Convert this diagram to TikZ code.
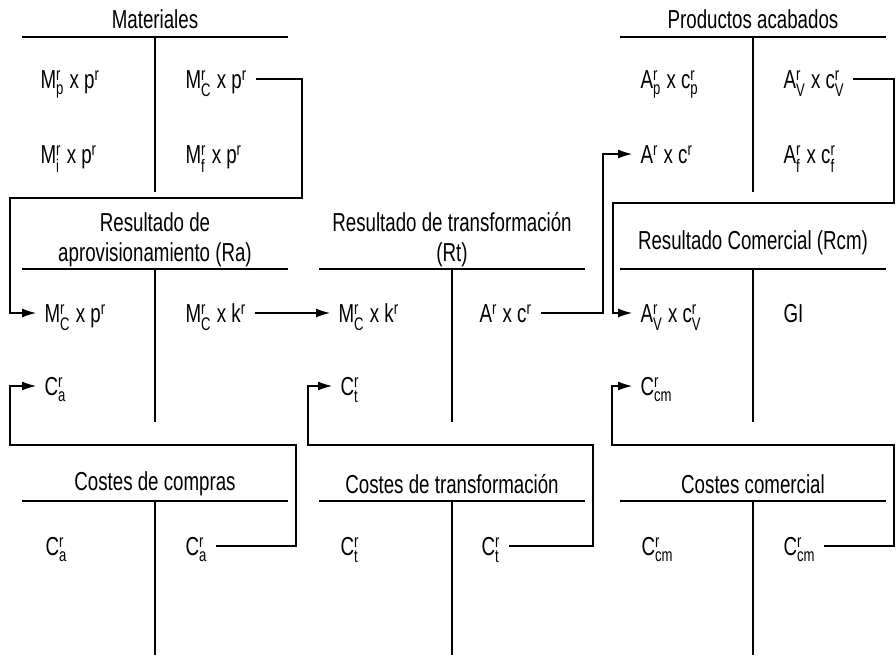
\documentclass[tikz,border=0pt]{standalone}
\usepackage{amsmath}
\usepackage{fontspec}
\setmainfont{Liberation Sans}[FakeStretch=0.72]
\usetikzlibrary{arrows.meta}

\tikzset{
	item/.style={anchor=west, inner xsep=4pt, inner ysep=0pt, text height=12pt, text depth=2pt, font=\fontsize{13}{15}\selectfont},
	title/.style={align=center, font=\fontsize{13}{15}\selectfont},
	flow/.style={-{Latex[length=7pt,width=4.5pt]}}
}
\newcommand{\ms}[3]{#1$^{\text{#2}}_{\text{#3}}$}
\newcommand{\mr}[1]{#1$^{\text{r}}$}

\begin{document}
\begin{tikzpicture}[x=0.5pt,y=-0.5pt,line width=0.6pt]
	\useasboundingbox (0,0) rectangle (896,657);
	% the T accounts
	\foreach \cx/\ya/\yb in {155/37/192, 753/37/192, 155/269/422, 452/269/422, 753/269/422, 155/501/655, 452/501/655, 753/501/655}
		\draw (\cx-133,\ya) -- (\cx+133,\ya) (\cx,\ya) -- (\cx,\yb);
	% titles
	\node[title] (tmat) at (155,19) {Materiales};
	\node[title] (tpro) at (753,19) {Productos acabados};
	\node[title] (tra) at (155,240) {Resultado de\\aprovisionamiento (Ra)};
	\node[title] (trt) at (452,240) {Resultado de transformación\\(Rt)};
	\node[title] (trcm) at (753,243) {Resultado Comercial (Rcm)};
	\node[title] (tcc) at (155,484) {Costes de compras};
	\node[title] (tct) at (452,484) {Costes de transformación};
	\node[title] (tcm) at (753,484) {Costes comercial};
	% Materiales
	\node[item] (matp) at (32,79) {\ms{M}{r}{p} x \mr{p}};
	\node[item] (matc) at (177,79) {\ms{M}{r}{C} x \mr{p}};
	\node[item] (mati) at (32,154) {\ms{M}{r}{i} x \mr{p}};
	\node[item] (matf) at (177,154) {\ms{M}{r}{f} x \mr{p}};
	% Productos acabados
	\node[item] (prop) at (632,79) {\ms{A}{r}{p} x \ms{c}{r}{p}};
	\node[item] (prov) at (775,79) {\ms{A}{r}{V} x \ms{c}{r}{V}};
	\node[item] (proa) at (632,154) {\mr{A} x \mr{c}};
	\node[item] (prof) at (775,154) {\ms{A}{r}{f} x \ms{c}{r}{f}};
	% Resultados
	\node[item] (rac) at (36,313) {\ms{M}{r}{C} x \mr{p}};
	\node[item] (rak) at (177,313) {\ms{M}{r}{C} x \mr{k}};
	\node[item] (raca) at (36,386) {\ms{C}{r}{a}};
	\node[item] (rtk) at (330,313) {\ms{M}{r}{C} x \mr{k}};
	\node[item] (rta) at (471,313) {\mr{A} x \mr{c}};
	\node[item] (rtct) at (332,386) {\ms{C}{r}{t}};
	\node[item] (rcv) at (632,313) {\ms{A}{r}{V} x \ms{c}{r}{V}};
	\node[item] (rcgi) at (775,313) {GI};
	\node[item] (rccm) at (632,386) {\ms{C}{r}{cm}};
	% Costes
	\node[item] (ccl) at (37,546) {\ms{C}{r}{a}};
	\node[item] (ccr) at (177,546) {\ms{C}{r}{a}};
	\node[item] (ctl) at (332,546) {\ms{C}{r}{t}};
	\node[item] (ctr) at (473,546) {\ms{C}{r}{t}};
	\node[item] (cml) at (633,546) {\ms{C}{r}{cm}};
	\node[item] (cmr) at (775,546) {\ms{C}{r}{cm}};
	% bends
	\coordinate (b1) at (302,198);
	\coordinate (b1l) at (10,198);
	\coordinate (b3) at (603,154);
	\coordinate (b4) at (894,203);
	\coordinate (b4l) at (613,203);
	\coordinate (b5) at (296,445);
	\coordinate (b5l) at (10,445);
	\coordinate (b6) at (593,445);
	\coordinate (b6l) at (308,445);
	\coordinate (b7) at (894,445);
	\coordinate (b7l) at (612,445);
	% connectors
	\draw[flow] (matc.east) -| (b1) -- (b1l) |- (rac.west);
	\draw[flow] (rak.east) -- (rtk.west);
	\draw[flow] (rta.east) -| (b3) -- (proa.west);
	\draw[flow] (prov.east) -| (b4) -- (b4l) |- (rcv.west);
	\draw[flow] (ccr.east) -| (b5) -- (b5l) |- (raca.west);
	\draw[flow] (ctr.east) -| (b6) -- (b6l) |- (rtct.west);
	\draw[flow] (cmr.east) -| (b7) -- (b7l) |- (rccm.west);
\end{tikzpicture}
\end{document}
